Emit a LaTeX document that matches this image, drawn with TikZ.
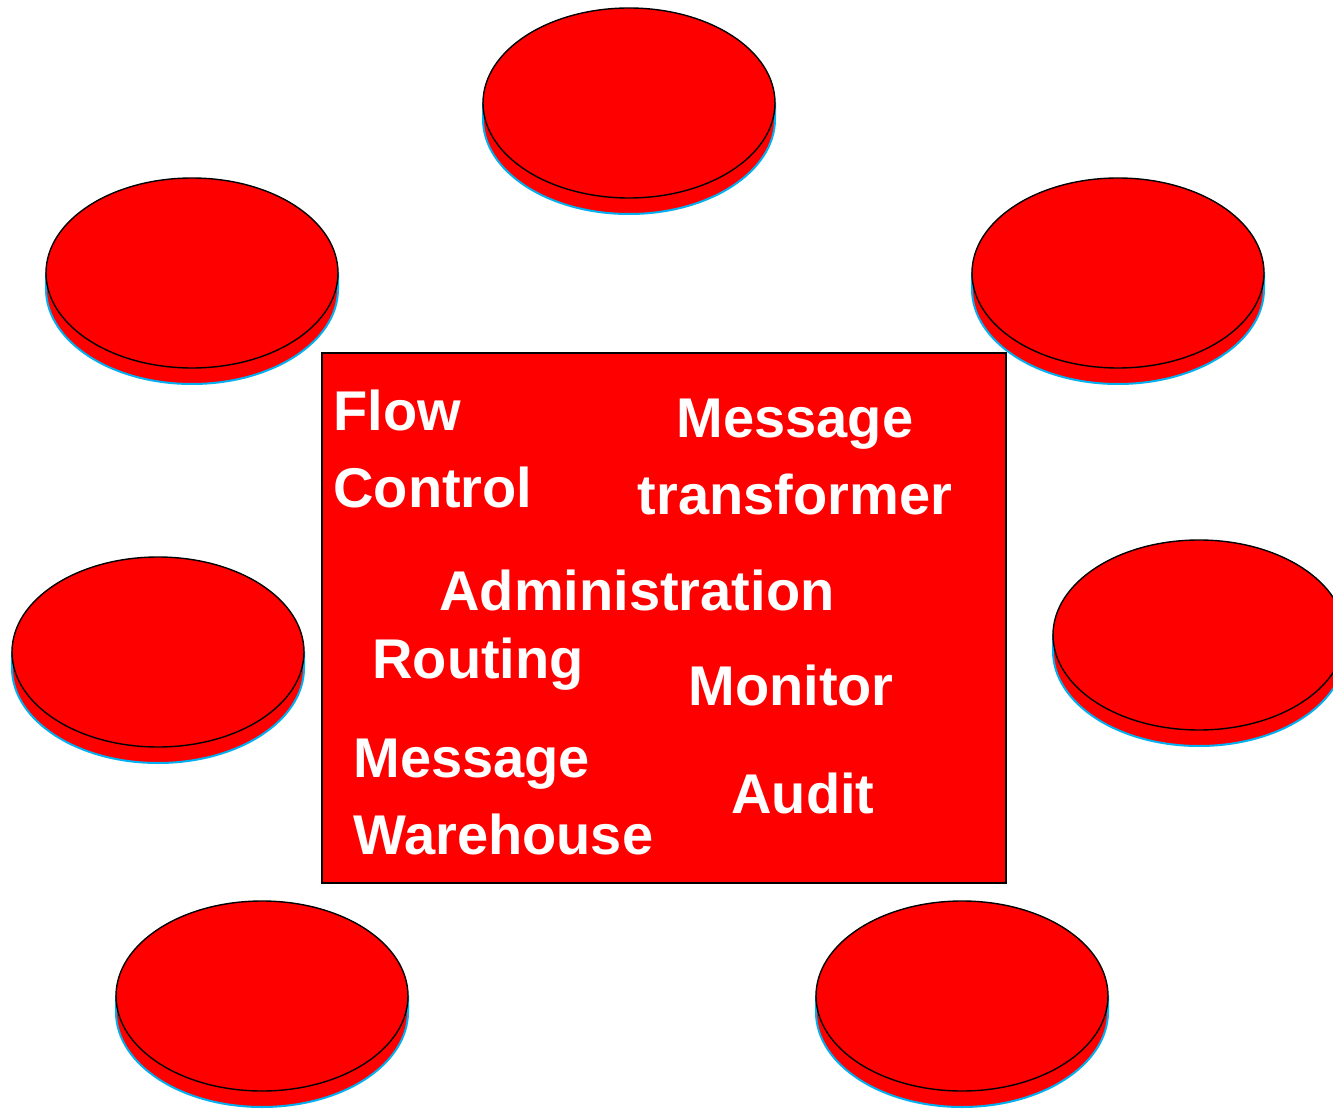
\documentclass[tikz,border=0pt]{standalone}
\usepackage{fontspec}
\setmainfont{Liberation Sans}
\definecolor{rimblue}{RGB}{0,176,240}

\begin{document}
\begin{tikzpicture}[x=0.5pt, y=-0.5pt,
		word/.style = {text=white, inner sep=0pt, font=\bfseries\fontsize{28}{38.5}\selectfont},
		rim/.style = {fill=red, draw=rimblue, line width=1pt},
		lid/.style = {fill=red, draw=black, line width=0.7pt}]
	\useasboundingbox (0,0) rectangle (1333,1112);
	\node[draw, fill=red, line width=1pt, minimum width=342pt, minimum height=265pt, anchor=north west] (box) at (321,352) {};
	
	\node[word, anchor=base west, align=left] (flow) at (333,507) {Flow\\Control};
	\node[word, anchor=base, align=center] (trans) at (795,514) {Message\\transformer};
	\node[word, anchor=base west] (admin) at (439,610) {Administration};
	\node[word, anchor=base west] (route) at (372,678) {Routing};
	\node[word, anchor=base west] (mon) at (688,705) {Monitor};
	\node[word, anchor=base west, align=left] (ware) at (353,854) {Message\\Warehouse};
	\node[word, anchor=base west] (audit) at (731,813) {Audit};
	
	% disks round the box
	\foreach \cx/\cy in {629/103, 192/273, 1118/273, 158/652, 1199/635, 262/996, 962/996} {
		\draw[rim] (\cx-146,\cy) -- (\cx-146,\cy+16) arc[start angle=180, end angle=0, x radius=146, y radius=95] -- (\cx+146,\cy) -- cycle;
		\draw[lid] (\cx,\cy) ellipse [x radius=146, y radius=95];
	}
\end{tikzpicture}
\end{document}
